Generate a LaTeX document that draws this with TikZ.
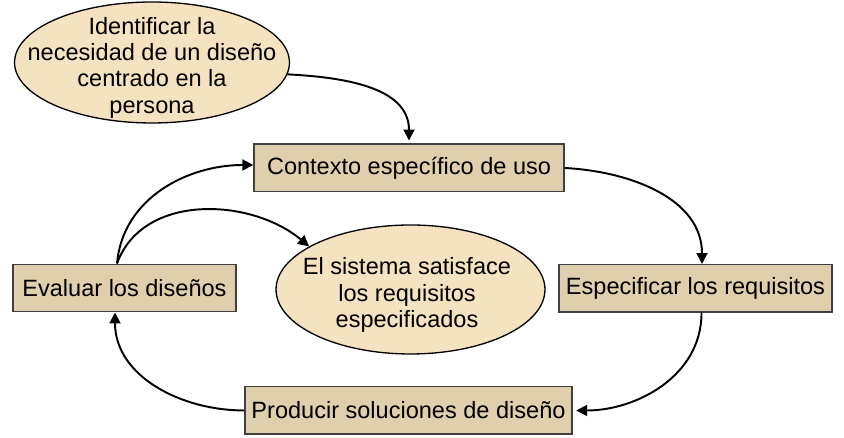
\documentclass[tikz,border=0pt]{standalone}
\usepackage{fontspec}
\setmainfont{Liberation Sans}
\usetikzlibrary{shapes.geometric,arrows.meta}

\definecolor{boxtan}{RGB}{224,207,172}
\definecolor{ovalwheat}{RGB}{245,226,192}
\definecolor{rim}{RGB}{64,64,64}

\tikzstyle{stepbox}=[draw=rim, fill=boxtan, line width=0.85pt, minimum height=0.95cm, inner sep=0pt, font=\fontsize{13.4}{14.6}\selectfont]
\tikzstyle{oval}=[ellipse, draw=black, fill=ovalwheat, line width=0.75pt, inner sep=0pt]
\tikzstyle{ovaltext}=[align=center, inner sep=0pt, font=\fontsize{13.4}{15}\selectfont]
\tikzstyle{arr}=[black, line width=1.1pt, draw, -{Triangle[length=0.22cm,width=0.22cm]}]

\begin{document}
\begin{tikzpicture}[x=0.02cm, y=0.02cm]
  \useasboundingbox (0,0) rectangle (844,438);

  \node[oval, minimum width=5.5cm, minimum height=2.42cm] (need) at (152,375.5) {};
  \node[ovaltext] (needtxt) at (152,370.5) {Identificar la\\necesidad de un diseño\\centrado en la\\persona};
  \node[stepbox, minimum width=6.2cm] (ctx) at (409,270) {Contexto específico de uso};
  \node[stepbox, minimum width=5.46cm] (spec) at (695.5,149.5) {Especificar los requisitos};
  \node[stepbox, minimum width=4.46cm] (eval) at (124.5,150) {Evaluar los diseños};
  \node[oval, minimum width=5.38cm, minimum height=2.58cm] (sat) at (410.5,148.5) {};
  \node[ovaltext] (sattxt) at (407,143) {El sistema satisface\\los requisitos\\especificados};
  \node[stepbox, minimum width=6.54cm] (prod) at (408.5,27.5) {Producir soluciones de diseño};

  \draw [arr] (need.-5) to[out=-3, in=90] ([yshift=0.06cm]ctx.north);
  \draw [arr] (ctx.east) to[out=-3, in=90] ([xshift=0.13cm]spec.north);
  \draw [arr, shorten >=2pt] ([xshift=0.12cm]spec.south) to[out=-90, in=0] (prod.east);
  \draw [arr] (prod.west) to[out=180, in=-90] ([xshift=-0.19cm]eval.south);
  \draw [arr] ([xshift=-0.15cm]eval.north) to[out=85, in=180] ([yshift=0.06cm]ctx.west);
  \draw [arr] ([xshift=-0.15cm]eval.north) to[out=70, in=140] (sat.157);
\end{tikzpicture}
\end{document}
